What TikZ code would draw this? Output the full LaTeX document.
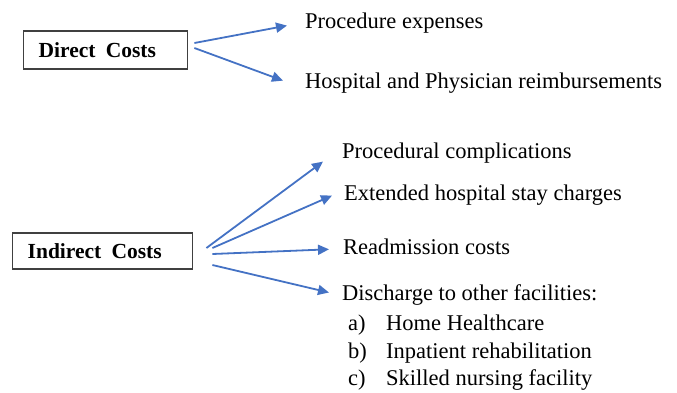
\documentclass[tikz,border=0pt]{standalone}
\usepackage{fontspec}
\setmainfont{Liberation Serif}
\usetikzlibrary{arrows.meta,calc}
\definecolor{arrowblue}{HTML}{4472C4}
\begin{document}
\begin{tikzpicture}[x=1pt,y=-1pt,
  costbox/.style={draw=black!75,line width=1.4pt,anchor=west,align=left,
    inner xsep=15pt,inner ysep=0pt,font=\fontsize{21.5}{24}\selectfont\bfseries},
  item/.style={anchor=base west,inner sep=0pt,font=\fontsize{22.5}{26}\selectfont},
  arr/.style={draw=arrowblue,line width=1.8pt,-{Triangle[length=11pt,width=10pt]}}]
\useasboundingbox (0,0) rectangle (677,392);

% cost categories
\node[costbox,text width=134pt,minimum height=38pt] (dc) at (23,50) {Direct\hspace{3pt} Costs};
\node[costbox,text width=150pt,minimum height=36pt] (ic) at (12,251) {Indirect\hspace{3pt} Costs};

% direct cost items (positions are baselines)
\node[item] (pe) at (305,28) {Procedure expenses};
\node[item] (hp) at (305,88) {Hospital and Physician reimbursements};

% indirect cost items
\node[item] (pc) at (342,158) {Procedural complications};
\node[item] (eh) at (344,200) {Extended hospital stay charges};
\node[item] (rc) at (343,254) {Readmission costs};
\node[item] (df) at (342,300) {Discharge to other facilities:};
\node[item] (la) at (348,330) {a)};
\node[item] (ia) at (386,330) {Home Healthcare};
\node[item] (lb) at (348,358) {b)};
\node[item] (ib) at (386,358) {Inpatient rehabilitation};
\node[item] (lc) at (348,385) {c)};
\node[item] (ic3) at (386,385) {Skilled nursing facility};

% connectors
\draw[arr] ($(dc.east)+(6,-7)$) -- ($(pe.west)+(-18,3)$);
\draw[arr] ($(dc.east)+(6,-2)$) -- ($(hp.west)+(-22,-2)$);
\draw[arr] ($(ic.east)+(13,-3)$) -- ($(pc.west)+(-19,9)$);
\draw[arr] ($(ic.east)+(19,-3)$) -- ($(eh.west)+(-12,1)$);
\draw[arr] ($(ic.east)+(19,3)$) -- ($(rc.west)+(-14,3)$);
\draw[arr] ($(ic.east)+(19,14)$) -- ($(df.west)+(-13,-2)$);
\end{tikzpicture}
\end{document}
